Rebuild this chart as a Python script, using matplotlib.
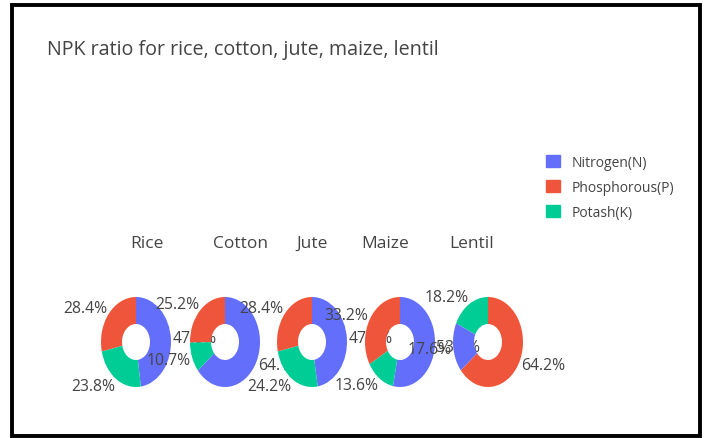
import numpy as np
import matplotlib.pyplot as plt
import matplotlib.patches as mpatches

plt.rcParams['font.family'] = ['Open Sans', 'DejaVu Sans']

# data (percent share of N, P, K for each crop)
crops = ['Rice', 'Cotton', 'Jute', 'Maize', 'Lentil']
nutrients = ['Nitrogen(N)', 'Phosphorous(P)', 'Potash(K)']
nitrogen = [47.8, 64.1, 47.4, 53.2, 17.6]
phosphorous = [28.4, 25.2, 28.4, 33.2, 64.2]
potash = [23.8, 10.7, 24.2, 13.6, 18.2]

colors = ['#636efa', '#ef553b', '#00cc96']
text_color = '#444444'

W, H = 707, 439
fig = plt.figure(figsize=(W / 100, H / 100), dpi=100)

# pie layout in pixels (pies are squeezed horizontally in the reference)
pie_cx = [136, 225, 312, 400, 488]
pie_cy = 343
rx, ry = 35, 45
title_x = [147, 241, 312, 385, 472]
title_y = 248


def px(x, y):
    return x / W, 1 - y / H


fig.text(*px(47, 55), 'NPK ratio for rice, cotton, jute, maize, lentil',
         fontsize=14.2, color=text_color, va='baseline', ha='left')

for i, crop in enumerate(crops):
    vals = np.array([nitrogen[i], phosphorous[i], potash[i]])
    order = np.argsort(-vals, kind='stable')
    v = vals[order]
    c = [colors[k] for k in order]
    # plotly style: biggest slice ends at 12 o'clock, rest go counter-clockwise
    start = 90 - 360 * v[0] / v.sum()

    left, bottom = px(pie_cx[i] - rx, pie_cy + ry)
    ax = fig.add_axes([left, bottom, 2 * rx / W, 2 * ry / H])
    wedges, _ = ax.pie(v, colors=c, startangle=start, counterclock=True,
                       radius=1, wedgeprops=dict(width=0.6, linewidth=0))
    ax.set_aspect('auto')
    ax.set_xlim(-1, 1)
    ax.set_ylim(-1, 1)
    ax.axis('off')

    # outside percent labels at mid angle of each slice
    for w, val in zip(wedges, v):
        mid = np.deg2rad((w.theta1 + w.theta2) / 2)
        cx, sy = np.cos(mid), np.sin(mid)
        ha = 'left' if cx >= 0 else 'right'
        ax.annotate(f'{val:.1f}%', xy=(cx, sy),
                    xytext=(1.0 * cx, 1.0 * sy + 5.2 * sy),
                    textcoords='offset points', ha=ha, va='center',
                    fontsize=11.3, color=text_color, annotation_clip=False)

    fig.text(*px(title_x[i], title_y), crop, fontsize=12.5, color=text_color,
             ha='center', va='baseline')

handles = [mpatches.Patch(color=col, label=lab) for col, lab in zip(colors, nutrients)]
fig.legend(handles=handles, loc='upper left', bbox_to_anchor=px(540, 150),
           frameon=False, fontsize=10, handlelength=1.05, handleheight=0.95,
           handletextpad=0.85, labelspacing=0.72, borderaxespad=0,
           labelcolor=text_color)

# black frame around the screenshot
fig.patches.append(mpatches.Rectangle(px(12, 437), (700 - 12) / W, (437 - 6) / H,
                                      transform=fig.transFigure, fill=False,
                                      edgecolor='black', linewidth=2.8))

fig.savefig('out.png', dpi=100)
